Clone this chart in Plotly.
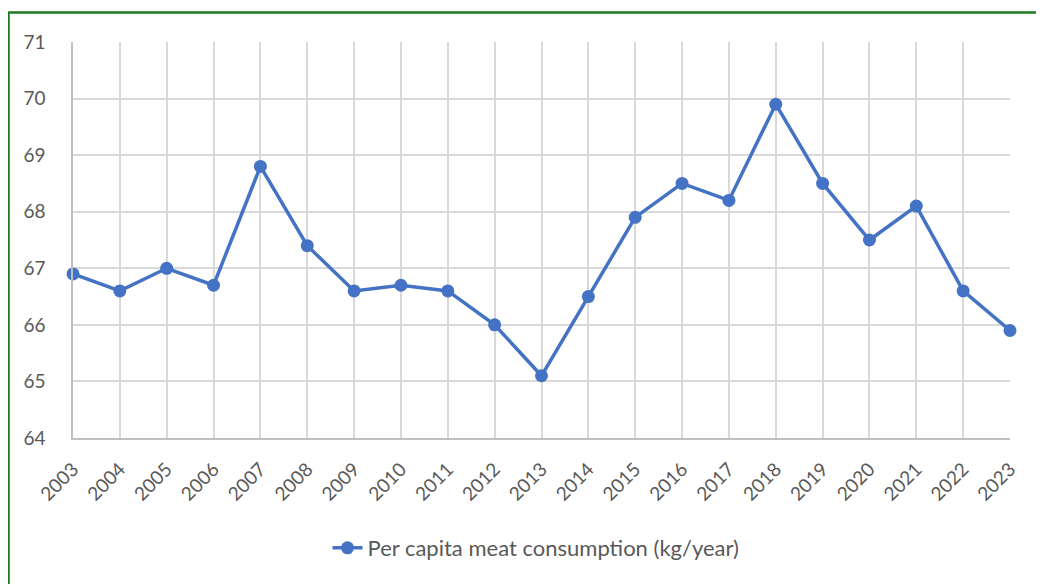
import plotly.graph_objects as go

years = [str(y) for y in range(2003, 2024)]
consumption = [66.9, 66.6, 67.0, 66.7, 68.8, 67.4, 66.6, 66.7, 66.6, 66.0, 65.1,
               66.5, 67.9, 68.5, 68.2, 69.9, 68.5, 67.5, 68.1, 66.6, 65.9]
series_name = "Per capita meat consumption (kg/year)"
y_ticks = [64, 65, 66, 67, 68, 69, 70, 71]

# page body has an 8px margin; compensate so plot area lands at x 73..1010, y 42..438
OFF = 8
W, H = 1044, 584
L, R, T = 73 - OFF, 1044 - 1010 + OFF, 42 - OFF
ph = 438 - 42
B = H - T - ph
pw = W - L - R

fig = go.Figure()
fig.add_trace(go.Scatter(
    x=years, y=consumption, mode="lines+markers", name=series_name,
    line=dict(color="#4472C4", width=3.5),
    marker=dict(color="#4472C4", size=13),
    cliponaxis=False,
))

tick_font = dict(family="Lato, 'Open Sans', sans-serif", size=19, color="#595959")

fig.update_layout(
    width=W, height=H,
    margin=dict(l=L, r=R, t=T, b=B, pad=0),
    paper_bgcolor="white", plot_bgcolor="white",
    font=tick_font,
    showlegend=True,
    legend=dict(orientation="h", x=(536 - 73) / pw, xanchor="center",
                y=-(548 - 438) / ph, yanchor="middle",
                font=dict(family="Lato, 'Open Sans', sans-serif", size=22, color="#595959")),
    xaxis=dict(type="category", range=[0, len(years) - 1], tickangle=-45,
               showgrid=True, gridcolor="#d9d9d9", gridwidth=1.5,
               showline=True, linecolor="#bfbfbf", linewidth=1.5,
               ticks="", tickfont=tick_font, ticklabelstandoff=11),
    yaxis=dict(range=[64, 71], tickvals=y_ticks, showgrid=True, gridcolor="#d9d9d9",
               gridwidth=1.5, showline=True, linecolor="#bfbfbf", linewidth=1.5,
               ticks="", tickfont=tick_font, zeroline=False, ticklabelstandoff=22),
)

# Green outer chart border (top and left edges visible)
fig.add_shape(type="rect", xref="paper", yref="paper",
              x0=(8.5 - 73) / pw, x1=(W + 40 - 73) / pw,
              y0=-(B + 40) / ph, y1=1 + (42 - 12.5) / ph,
              line=dict(color="#1f7a1f", width=2.5), fillcolor="rgba(0,0,0,0)", layer="below")

fig.write_html("out.html")
